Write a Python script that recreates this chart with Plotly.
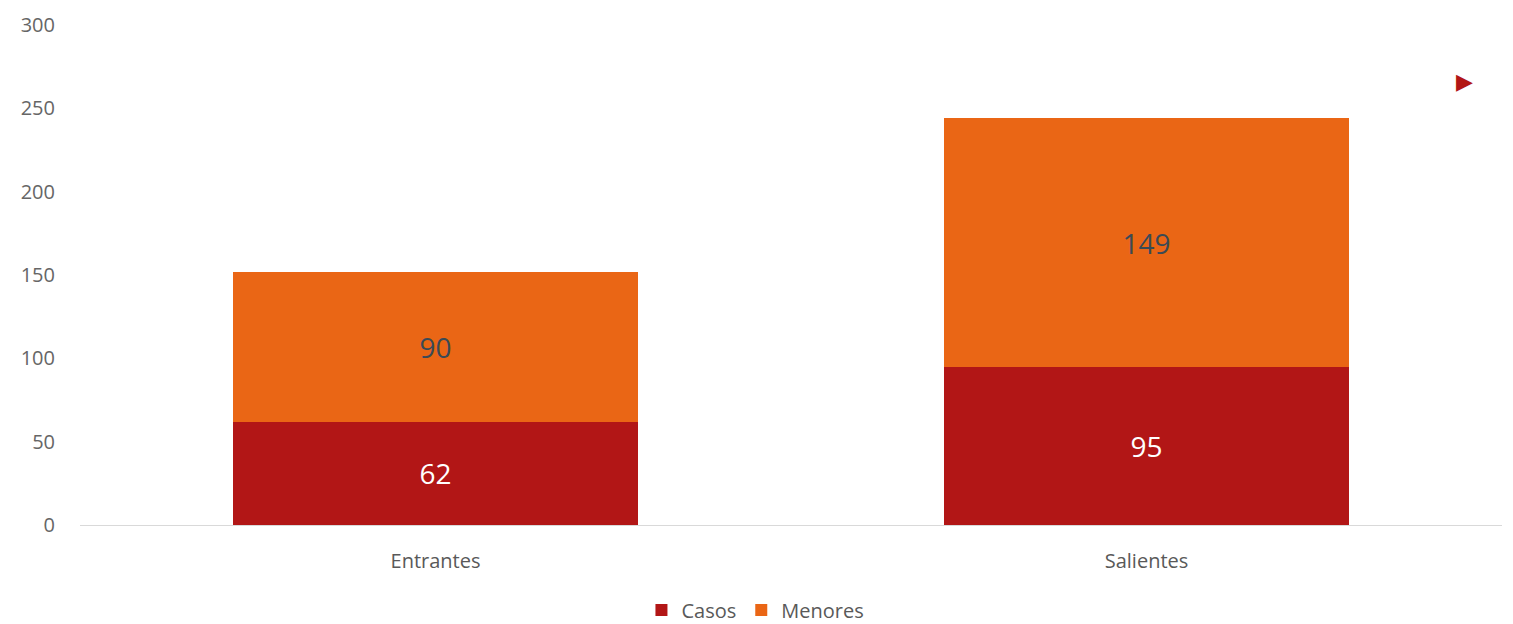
import plotly.graph_objects as go

categories = ["Entrantes", "Salientes"]
casos = [62, 95]
menores = [90, 149]

y_ticks = [0, 50, 100, 150, 200, 250, 300]

RED = "#B21616"
ORANGE = "#EA6615"
FONT = "Open Sans, Lato, sans-serif"

fig = go.Figure()
fig.add_trace(go.Bar(
    name="Casos", x=categories, y=casos,
    marker=dict(color=RED, line=dict(width=0)),
    text=casos, textposition="inside", insidetextanchor="middle",
    textfont=dict(color="white", size=28, family=FONT),
))
fig.add_trace(go.Bar(
    name="Menores", x=categories, y=menores,
    marker=dict(color=ORANGE, line=dict(width=0)),
    text=menores, textposition="inside", insidetextanchor="middle",
    textfont=dict(color="#3A4A55", size=28, family=FONT),
))

# small decorative pointer in the top-right corner
fig.add_annotation(
    xref="paper", yref="paper", x=0.981, y=0.89,
    text="▶", showarrow=False, yanchor="middle",
    font=dict(color=RED, size=22),
)

fig.update_layout(
    barmode="stack",
    bargap=0.43,
    width=1513, height=624,
    margin=dict(l=80, r=11, t=25, b=99, autoexpand=False),
    plot_bgcolor="white", paper_bgcolor="white",
    font=dict(family=FONT, size=20, color="#595959"),
    legend=dict(
        orientation="h", x=0.475, xanchor="center", y=-0.17, yanchor="middle",
        font=dict(size=20, color="#595959"), traceorder="normal",
        itemwidth=30,
    ),
    xaxis=dict(
        showline=True, linecolor="#D9D9D9", linewidth=1,
        ticks="", ticklabelstandoff=18,
        tickfont=dict(size=20, color="#595959"),
    ),
    yaxis=dict(
        range=[0, 300], tickvals=y_ticks, showgrid=False,
        zeroline=False, showline=False, ticks="",
        ticklabelstandoff=24,
        tickfont=dict(size=20, color="#666666"),
    ),
)

fig.write_html("out.html")
